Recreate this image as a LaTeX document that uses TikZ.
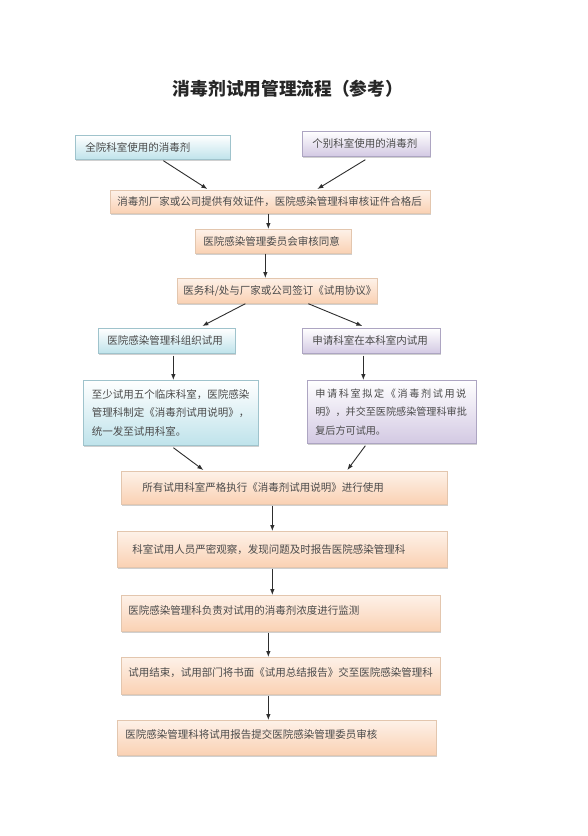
\documentclass[tikz,border=0pt]{standalone}
\usepackage{fontspec}
\newfontfamily\cjk{Noto Sans CJK SC}
\usetikzlibrary{shadows,arrows.meta,calc}
\definecolor{txt}{HTML}{4A4A4A}
\definecolor{blueb}{HTML}{BFE3EB}
\definecolor{bluel}{HTML}{9FC3CC}
\definecolor{purpb}{HTML}{D3C9E3}
\definecolor{purpl}{HTML}{ADA5C2}
\definecolor{orab}{HTML}{FAD1B3}
\definecolor{oral}{HTML}{E3C6AE}
\definecolor{arr}{HTML}{2E2E2E}
\begin{document}
\begin{tikzpicture}[x=1pt,y=-1pt,
  base/.style={draw=#1, line width=0.7pt, rectangle, anchor=north west, align=left,
    text=txt, font=\cjk\fontsize{10.5}{18.5}\selectfont,
    drop shadow={shadow xshift=1pt, shadow yshift=-1.8pt, opacity=0.3, fill=black!60}},
  bluebox/.style={base=bluel, top color=white, bottom color=blueb},
  purpbox/.style={base=purpl, top color=white, bottom color=purpb},
  orabox/.style={base=oral, top color=white!70!orab, bottom color=orab},
  raised/.style={text depth=7pt},
  conn/.style={draw=arr, line width=0.9pt, -{Latex[length=6pt,width=4.5pt]}}
]
\useasboundingbox (0,0) rectangle (588,836);
\fill[white] (0,0) rectangle (588,836);

\node[font=\cjk\bfseries\fontsize{17.7}{20}\selectfont, text=black!85] (title) at (288,89) {消毒剂试用管理流程（参考）};

\node[bluebox, minimum width=155pt, minimum height=24pt, inner xsep=10pt, text width=135pt] (A) at (75,135) {全院科室使用的消毒剂};
\node[purpbox, minimum width=128pt, minimum height=25pt, inner xsep=10pt, text width=108pt] (B) at (302,131) {个别科室使用的消毒剂};
\node[orabox, minimum width=320pt, minimum height=23pt, inner xsep=7pt, text width=306pt] (C) at (110,190) {消毒剂厂家或公司提供有效证件，医院感染管理科审核证件合格后};
\node[orabox, minimum width=156pt, minimum height=24pt, inner xsep=8pt, text width=140pt] (D) at (195,229) {医院感染管理委员会审核同意};
\node[orabox, minimum width=200pt, minimum height=25pt, inner xsep=6pt, text width=188pt] (E) at (177,278) {医务科/处与厂家或公司签订《试用协议》};
\node[bluebox, minimum width=137pt, minimum height=25pt, inner xsep=9pt, text width=119pt] (F) at (98,328) {医院感染管理科组织试用};
\node[purpbox, minimum width=138pt, minimum height=25pt, inner xsep=10pt, text width=118pt] (G) at (302,328) {申请科室在本科室内试用};
\node[bluebox, minimum width=175pt, minimum height=65pt, inner xsep=8.5pt, text width=158pt] (H) at (83,380) {至少试用五个临床科室，医院感染\\管理科制定《消毒剂试用说明》，\\统一发至试用科室。};
\node[purpbox, minimum width=169pt, minimum height=63pt, inner xsep=8pt, text width=153pt, font=\cjk\fontsize{10.1}{18.5}\selectfont] (I) at (307,380) {\makebox[151pt][s]{申\hfil 请\hfil 科\hfil 室\hfil 拟\hfil 定\hfil 《\hfil 消\hfil 毒\hfil 剂\hfil 试\hfil 用\hfil 说}\\明》，并交至医院感染管理科审批\\复后方可试用。};
\node[orabox, minimum width=326pt, minimum height=33pt, inner xsep=21pt, text width=284pt] (J) at (121,471) {所有试用科室严格执行《消毒剂试用说明》进行使用};
\node[orabox, minimum width=330pt, minimum height=36pt, inner xsep=15pt, text width=300pt] (K) at (117,531) {科室试用人员严密观察，发现问题及时报告医院感染管理科};
\node[orabox, raised, minimum width=319pt, minimum height=36pt, inner xsep=7pt, text width=305pt] (L) at (121,595) {医院感染管理科负责对试用的消毒剂浓度进行监测};
\node[orabox, raised, minimum width=319pt, minimum height=37pt, inner xsep=7pt, text width=305pt] (M) at (121,657) {试用结束，试用部门将书面《试用总结报告》交至医院感染管理科};
\node[orabox, raised, minimum width=319pt, minimum height=35pt, inner xsep=8pt, text width=303pt] (N) at (117,720) {医院感染管理科将试用报告提交医院感染管理委员审核};

\draw[conn] ([xshift=10.5pt,yshift=-1pt]A.south) -- ([xshift=-63pt,yshift=1pt]C.north);
\draw[conn] ([xshift=-1pt,yshift=-3pt]B.south) -- ([xshift=47pt,yshift=1pt]C.north);
\draw[conn] ([xshift=-2pt]C.south) -- ([xshift=-5pt]D.north);
\draw[conn] ([xshift=-8pt]D.south) -- ([xshift=-12pt]E.north);
\draw[conn] ([xshift=-32pt]E.south) -- ([xshift=35.5pt,yshift=2pt]F.north);
\draw[conn] ([xshift=31pt]E.south) -- ([xshift=-9pt,yshift=2pt]G.north);
\draw[conn] ([xshift=6.5pt,yshift=-2pt]F.south) -- ([xshift=2.5pt]H.north);
\draw[conn] ([xshift=-8pt,yshift=-2pt]G.south) -- ([xshift=-28.5pt]I.north);
\draw[conn] ([xshift=2.5pt,yshift=-2pt]H.south) -- ([xshift=-81pt,yshift=1pt]J.north);
\draw[conn] ([xshift=-26.5pt,yshift=-2pt]I.south) -- ([xshift=63pt,yshift=1pt]J.north);
\draw[conn] ([xshift=-12pt,yshift=-1pt]J.south) -- ([xshift=-10pt]K.north);
\draw[conn] ([xshift=-10pt,yshift=-1pt]K.south) -- ([xshift=-8.5pt]L.north);
\draw[conn] ([xshift=-12.5pt,yshift=-1pt]L.south) -- ([xshift=-12.5pt]M.north);
\draw[conn] ([xshift=-12.5pt,yshift=-1pt]M.south) -- ([xshift=-8.5pt]N.north);
\end{tikzpicture}
\end{document}
